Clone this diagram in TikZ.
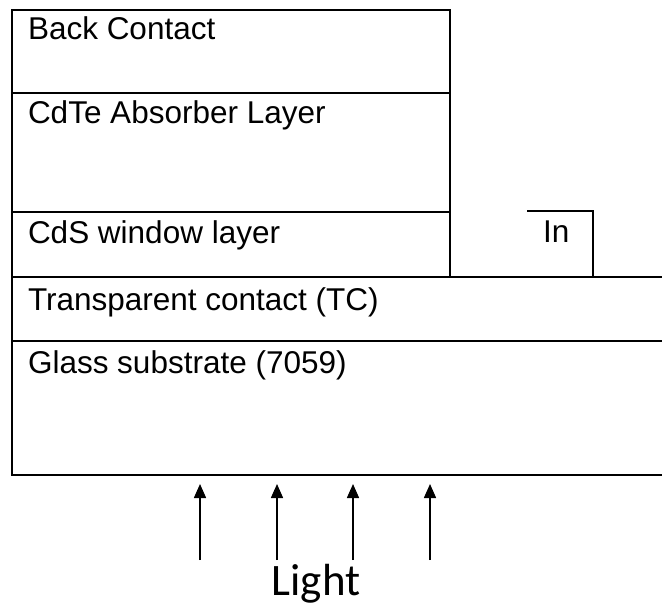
\documentclass[tikz,border=0pt]{standalone}
\usepackage{fontspec}
\setmainfont{Liberation Sans}
\newfontfamily\lightfont{Carlito}
\usetikzlibrary{arrows.meta}
\usetikzlibrary{positioning}
\usetikzlibrary{calc}

\begin{document}
\begin{tikzpicture}[x=1pt, y=-1pt, line width=2pt,
    every node/.style={anchor=base west, inner sep=0pt, font=\fontsize{31.5}{36}\selectfont},
    ray/.style={line width=1.5pt, -{Triangle[length=14pt, width=12pt]}}]

      \useasboundingbox (0, 0) rectangle (662, 608);

      \def\xl{12} % left edge of the stack
      \def\xs{450} % right edge of the upper layers
      \def\xr{662} % right edge of TC and glass

      \coordinate (bc) at (\xl, 10);
      \coordinate (cdte) at (\xl, 93);
      \coordinate (cds) at (\xl, 212);
      \coordinate (tc) at (\xl, 277);
      \coordinate (glass) at (\xl, 341);
      \coordinate (bottom) at (\xl, 475);

      \draw (bc) rectangle (\xs, 277);
      \draw (cdte) -- (\xs, 93);
      \draw (cds) -- (\xs, 212);
      \draw (\xr, 277) -- (tc) -- (bottom) -- (\xr, 475);
      \draw (glass) -- (\xr, 341);

      \node (bclabel) at ($(bc) + (15, 29)$) {Back Contact};
      \node (cdtelabel) at ($(cdte) + (15, 30)$) {CdTe Absorber Layer};
      \node (cdslabel) at ($(cds) + (15, 31)$) {CdS window layer};
      \node (tclabel) at ($(tc) + (15, 33)$) {Transparent contact (TC)};
      \node (glasslabel) at ($(glass) + (15, 32)$) {Glass substrate (7059)};

      % indium contact
      \coordinate (in1) at (527, 211);
      \coordinate (in2) at (593, 211);
      \coordinate (in3) at (593, 277);
      \draw (in1) -- (in2) -- (in3);
      \node (inlabel) at (542, 242) {In};

      \foreach \x [count=\j] in {200, 277, 353, 430} {
        \coordinate (ray\j) at (\x, 560);
        \coordinate (tip\j) at (\x, 484);
        \draw[ray] (ray\j) -- (tip\j);
      }

      \node[anchor=base, font=\lightfont\fontsize{45}{50}\selectfont] (light) at (316, 595) {Light};
    \end{tikzpicture}
\end{document}
